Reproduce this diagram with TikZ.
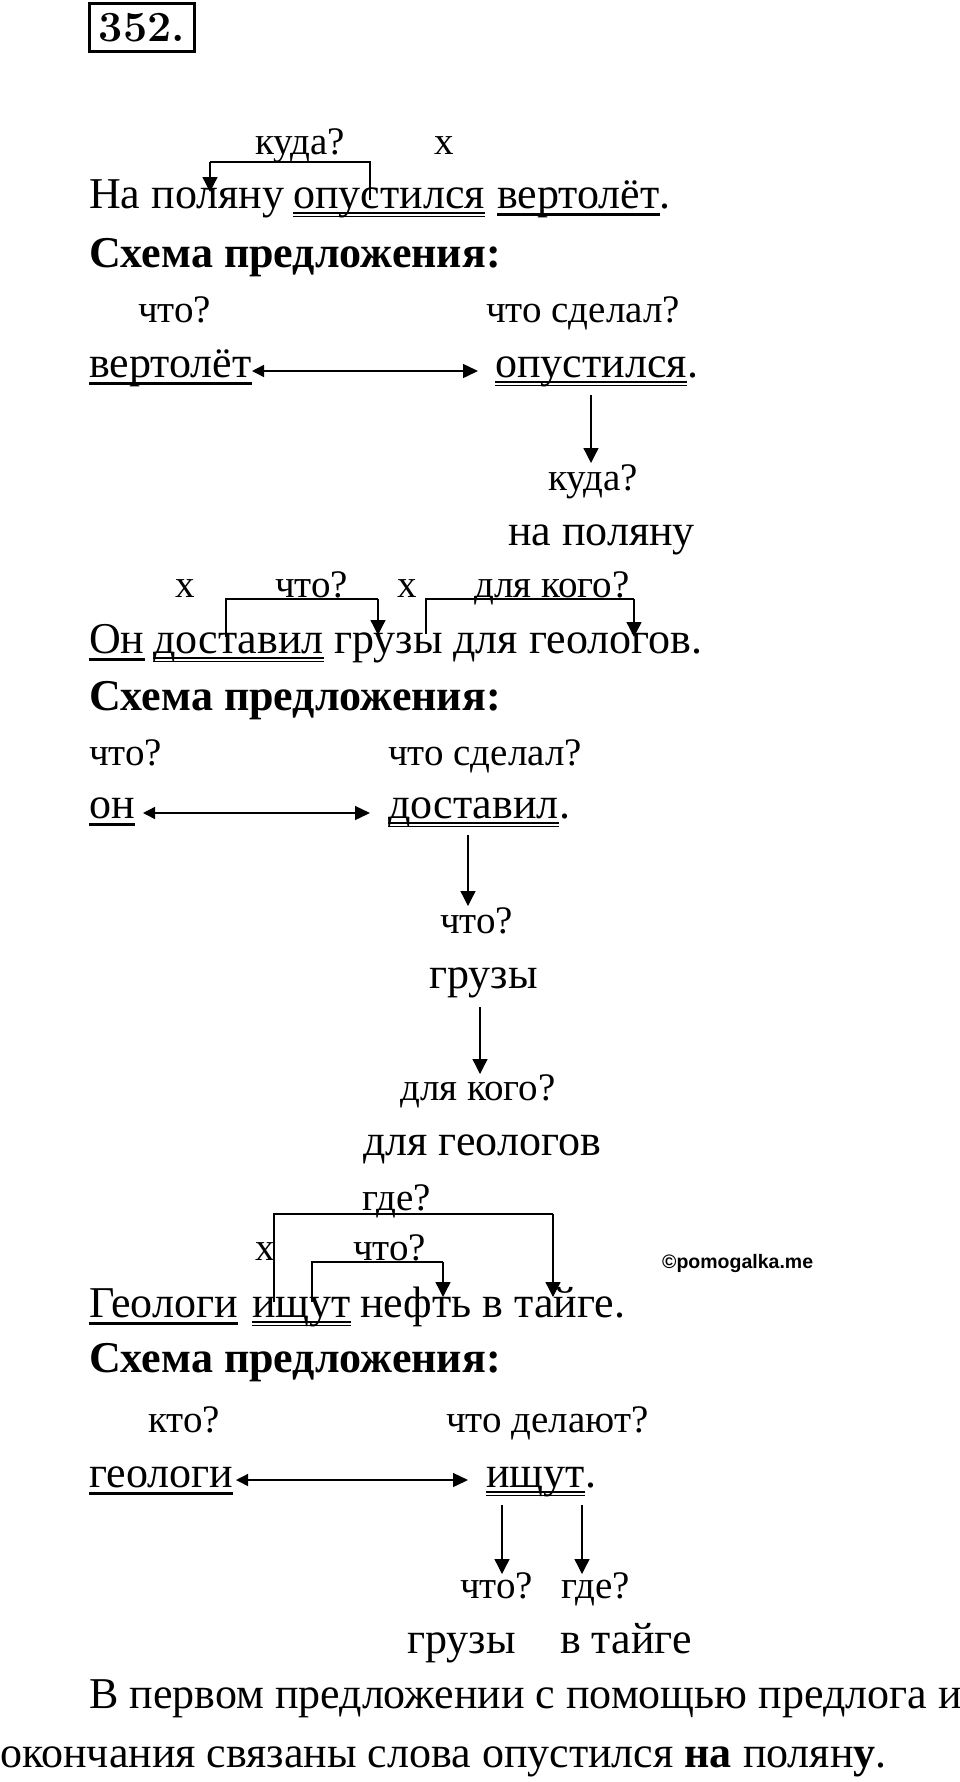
\documentclass[tikz,border=0pt]{standalone}
\usepackage{fontspec}
\setmainfont{Liberation Serif}
\newfontfamily\wmfont{Liberation Sans}
\newfontfamily\lmrfont{Latin Modern Roman}
\usetikzlibrary{arrows.meta}
\newcommand\mainsz{\fontsize{44}{50}\selectfont}
\newcommand\qsz{\fontsize{39}{44}\selectfont}
\newcommand\dul[1]{%
  \draw[ulthin] ([yshift=-5pt]#1.base west) -- ([yshift=-5pt]#1.base east);
  \draw[ulthin] ([yshift=-8.5pt]#1.base west) -- ([yshift=-8.5pt]#1.base east);}
\newcommand\sul[1]{%
  \draw[ulthick] ([yshift=-6.5pt]#1.base west) -- ([yshift=-6.5pt]#1.base east);}
\begin{document}
\begin{tikzpicture}[x=1pt,y=-1pt,
  word/.style={inner sep=0pt, anchor=base west, font=\mainsz},
  qword/.style={inner sep=0pt, anchor=base west, font=\qsz},
  bword/.style={inner sep=0pt, anchor=base west, font=\mainsz\bfseries},
  ulthin/.style={line width=1.3pt},
  ulthick/.style={line width=2.6pt},
  link/.style={line width=1.3pt},
  linkarrow/.style={line width=1.3pt, -{Triangle[length=15pt,width=15pt]}},
  both/.style={line width=1.4pt, {Triangle[length=12pt,width=12pt]}-{Triangle[length=15pt,width=14pt]}}
]
\useasboundingbox (0,0) rectangle (960,1782);
\fill[white] (0,0) rectangle (960,1782);

% header
\node[draw, line width=3pt, minimum width=105pt, minimum height=48pt, inner sep=0pt,
      font=\lmrfont\bfseries\fontsize{43}{48}\selectfont] (num) at (142,27.5) {352.};

% sentence 1
\node[qword] (q1) at (255,154) {куда?};
\node[qword] (x1) at (434,154) {x};
\node[word] (s1a) at (89,208) {На поляну};
\node[word] (s1b) at (293,208) {опустился};
\node[word] (s1c) at (497,208) {вертолёт};
\node[word] at (s1c.base east) {.};
\dul{s1b}
\sul{s1c}
\coordinate (b1l) at (210,162);
\coordinate (b1r) at (370,162);
\coordinate (b1e) at (210,192);
\coordinate (b1s) at (370,200);
\draw[link] (b1s) -- (b1r) -- (b1l);
\draw[linkarrow] (b1l) -- (b1e);

\node[bword] (h1) at (89,267) {Схема предложения:};
\node[qword] (q2) at (138,322) {что?};
\node[qword] (q3) at (486,322) {что сделал?};
\node[word] (v1) at (89,377) {вертолёт};
\sul{v1}
\node[word] (v2) at (495,377) {опустился};
\node[word] at (v2.base east) {.};
\dul{v2}
\coordinate (a0l) at (252,371);
\coordinate (a0r) at (478,371);
\draw[both] (a0l) -- (a0r);
\coordinate (a1s) at (591,395);
\node[qword] (q4) at (548,490) {куда?};
\node[word] (v3) at (508,545) {на поляну};
\draw[linkarrow] (a1s) -- (591,463);

% sentence 2
\node[qword] (x2) at (175,597) {x};
\node[qword] (q5) at (275,597) {что?};
\node[qword] (x3) at (397,597) {x};
\node[qword] (q6) at (474,597) {для кого?};
\node[word] (s2a) at (89,653) {Он};
\node[word] (s2b) at (153,653) {доставил};
\node[word] (s2c) at ([xshift=10pt]s2b.base east) {грузы для геологов.};
\sul{s2a}
\dul{s2b}
\coordinate (bAl) at (226,599);
\coordinate (bAr) at (378,599);
\coordinate (bAs) at (226,637);
\coordinate (bAe) at (378,635);
\draw[link] (bAs) -- (bAl) -- (bAr);
\draw[linkarrow] (bAr) -- (bAe);
\coordinate (bBl) at (426,599);
\coordinate (bBr) at (634,599);
\coordinate (bBs) at (426,634);
\coordinate (bBe) at (634,637);
\draw[link] (bBs) -- (bBl) -- (bBr);
\draw[linkarrow] (bBr) -- (bBe);

\node[bword] (h2) at (89,710) {Схема предложения:};
\node[qword] (q7) at (89,765) {что?};
\node[qword] (q8) at (388,765) {что сделал?};
\node[word] (w1) at (89,818) {он};
\sul{w1}
\node[word] (w2) at (388,818) {доставил};
\node[word] at (w2.base east) {.};
\dul{w2}
\coordinate (a2l) at (143,813);
\coordinate (a2r) at (370,813);
\draw[both] (a2l) -- (a2r);
\node[qword] (q9) at (440,933) {что?};
\node[word] (w3) at (429,988) {грузы};
\draw[linkarrow] (468,835) -- (468,906);
\node[qword] (q10) at (400,1100) {для кого?};
\node[word] (w4) at (363,1155) {для геологов};
\draw[linkarrow] (480,1007) -- (480,1074);

% sentence 3
\node[qword] (q11) at (362,1210) {где?};
\node[qword] (x4) at (255,1260) {x};
\node[qword] (q12) at (353,1260) {что?};
\node[font=\wmfont\bfseries\fontsize{19.5}{22}\selectfont, inner sep=0pt, anchor=base west] (wm) at (662,1268) {©pomogalka.me};
\node[word] (s3a) at (89,1317) {Геологи};
\node[word] (s3b) at (252,1317) {ищут};
\node[word] (s3c) at (360,1317) {нефть в тайге.};
\sul{s3a}
\dul{s3b}
\coordinate (bCl) at (274,1214);
\coordinate (bCr) at (553,1214);
\coordinate (bCs) at (274,1302);
\coordinate (bCe) at (553,1297);
\draw[link] (bCs) -- (bCl) -- (bCr);
\draw[linkarrow] (bCr) -- (bCe);
\coordinate (bDl) at (312,1262);
\coordinate (bDr) at (443,1262);
\coordinate (bDs) at (312,1302);
\coordinate (bDe) at (443,1297);
\draw[link] (bDs) -- (bDl) -- (bDr);
\draw[linkarrow] (bDr) -- (bDe);

\node[bword] (h3) at (89,1372) {Схема предложения:};
\node[qword] (q13) at (148,1432) {кто?};
\node[qword] (q14) at (446,1432) {что делают?};
\node[word] (g1) at (89,1487) {геологи};
\sul{g1}
\node[word] (g2) at (486,1487) {ищут};
\node[word] at (g2.base east) {.};
\dul{g2}
\coordinate (a3l) at (236,1480);
\coordinate (a3r) at (468,1480);
\draw[both] (a3l) -- (a3r);
\node[qword] (q15) at (460,1598) {что?};
\node[qword] (q16) at (561,1598) {где?};
\node[word] (g3) at (407,1653) {грузы};
\node[word] (g4) at (560,1653) {в тайге};
\draw[linkarrow] (502,1505) -- (502,1574);
\draw[linkarrow] (582,1505) -- (582,1574);

% conclusion
\node[word] (p1) at (89,1708) {В первом предложении с помощью предлога и};
\node[word] (p2) at (0,1767) {окончания связаны слова опустился \textbf{на} полян\textbf{у}.};
\end{tikzpicture}
\end{document}
